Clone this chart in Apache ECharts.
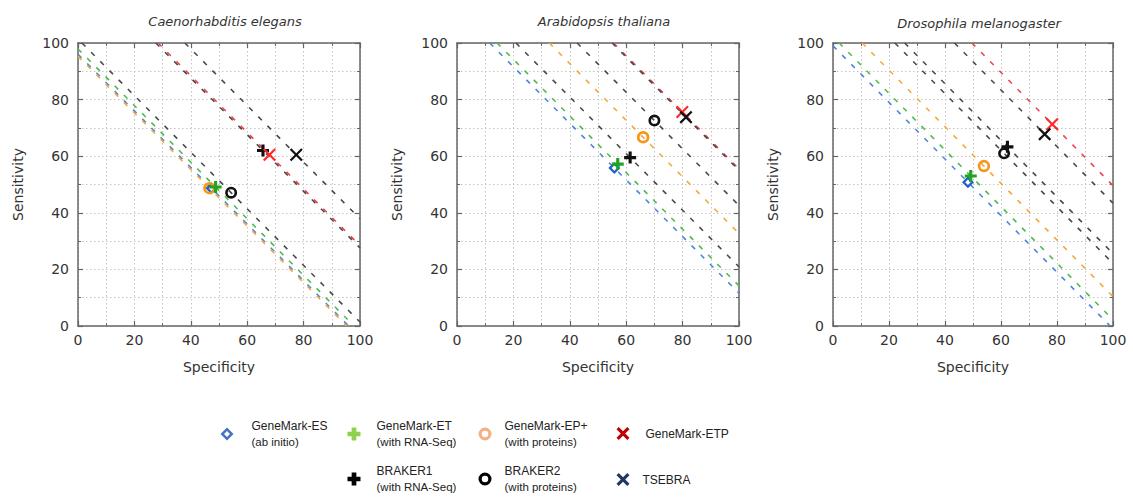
<!DOCTYPE html>
<html><head><meta charset="utf-8">
<script src="https://cdn.jsdelivr.net/npm/echarts@6/dist/echarts.min.js"></script>
<style>html,body{margin:0;padding:0;background:#fff}#c{width:1133px;height:498px}</style>
</head><body><div id="c"></div>
<script>
// ---- data ----
const methods = ['GeneMark-ES','GeneMark-EP+','GeneMark-ET','BRAKER2','BRAKER1','GeneMark-ETP','TSEBRA'];
const species = ['Caenorhabditis elegans','Arabidopsis thaliana','Drosophila melanogaster'];
const tickValues = [0,20,40,60,80,100];
// order matches `methods`
const celegansSpecificity = [47.3, 46.6, 48.8, 54.3, 65.6, 67.9, 77.4];
const celegansSensitivity = [48.7, 48.7, 49.1, 47.1, 62.0, 60.5, 60.5];
const athalianaSpecificity = [55.8, 66.0, 57.0, 70.0, 61.4, 79.9, 81.2];
const athalianaSensitivity = [55.8, 66.7, 57.2, 72.6, 59.5, 75.6, 73.8];
const dmelanogasterSpecificity = [48.2, 53.9, 49.2, 61.1, 62.3, 78.3, 75.6];
const dmelanogasterSensitivity = [50.8, 56.5, 53.0, 61.0, 63.3, 71.3, 67.8];
const legendOrder = ['GeneMark-ES','GeneMark-ET','GeneMark-EP+','GeneMark-ETP','BRAKER1','BRAKER2','TSEBRA'];
const legendNotes = ['(ab initio)','(with RNA-Seq)','(with proteins)','','(with RNA-Seq)','(with proteins)',''];

const spec = [celegansSpecificity, athalianaSpecificity, dmelanogasterSpecificity];
const sens = [celegansSensitivity, athalianaSensitivity, dmelanogasterSensitivity];

// ---- styles ----
const P_PLUS = 'path://M-1.3,-5 H1.3 V-1.3 H5 V1.3 H1.3 V5 H-1.3 V1.3 H-5 V-1.3 H-1.3 Z';
const P_PLUS_B = 'path://M-1.8,-5 H1.8 V-1.8 H5 V1.8 H1.8 V5 H-1.8 V1.8 H-5 V-1.8 H-1.8 Z';
const P_X = 'path://M-5,-3.8 L-3.8,-5 L0,-1.2 L3.8,-5 L5,-3.8 L1.2,0 L5,3.8 L3.8,5 L0,1.2 L-3.8,5 L-5,3.8 L-1.2,0 Z';
const P_X_B = 'path://M-5,-3.3 L-3.3,-5 L0,-1.7 L3.3,-5 L5,-3.3 L1.7,0 L5,3.3 L3.3,5 L0,1.7 L-3.3,5 L-5,3.3 L-1.7,0 Z';
const P_RING = 'path://M0,-10 A10,10 0 1,1 0,10 A10,10 0 1,1 0,-10 Z M0,-5.6 A5.6,5.6 0 1,0 0,5.6 A5.6,5.6 0 1,0 0,-5.6 Z';
const P_RING_B = 'path://M0,-10 A10,10 0 1,1 0,10 A10,10 0 1,1 0,-10 Z M0,-5 A5,5 0 1,0 0,5 A5,5 0 1,0 0,-5 Z';
const P_DIAM = 'path://M0,-10 L10,0 L0,10 L-10,0 Z M0,-4.6 L-4.6,0 L0,4.6 L4.6,0 Z';

const style = {
  'GeneMark-ES':  {sym:P_DIAM, size:12, color:'#1f62c9', line:'#4f87d8', leg:'#4472c4', legSym:P_DIAM},
  'GeneMark-EP+': {sym:P_RING, size:12.5, color:'#f5971a', line:'#f5a83a', leg:'#f4b183', legSym:P_RING_B},
  'GeneMark-ET':  {sym:P_PLUS, size:12, color:'#22a322', line:'#4dbb4d', leg:'#92d050', legSym:P_PLUS_B},
  'BRAKER2':      {sym:P_RING, size:12, color:'#111111', line:'#4a4a4a', leg:'#000000', legSym:P_RING_B},
  'BRAKER1':      {sym:P_PLUS, size:12, color:'#111111', line:'#4a4a4a', leg:'#000000', legSym:P_PLUS_B},
  'GeneMark-ETP': {sym:P_X, size:13, color:'#ff2a2a', line:'#e8454c', leg:'#c00000', legSym:P_X_B},
  'TSEBRA':       {sym:P_X, size:13, color:'#111111', line:'#4a4a4a', leg:'#1f3864', legSym:P_X_B}
};

const grids = [
  {left:78, top:43, width:282, height:283},
  {left:457, top:43, width:282, height:283},
  {left:833, top:43, width:280, height:283}
];
const titleCenters = [[220,10],[599,10],[974,12]];

const frameColor = '#666';
const tickFont = {fontFamily:'DejaVu Sans', fontSize:14, color:'#333'};

function axisBase(gi, pos, main) {
  return {
    gridIndex: gi, type:'value', position: pos,
    min: tickValues[0], max: tickValues[tickValues.length-1],
    interval: tickValues[1]-tickValues[0],
    axisLine:{show:true, onZero:false, lineStyle:{color:frameColor, width:1.5}},
    axisTick:{show:true, inside:true, length:5, lineStyle:{color:frameColor, width:1.2}},
    minorTick:{show:true, splitNumber:2, length:3, lineStyle:{color:frameColor, width:1}},
    splitLine:{show:main, lineStyle:{type:[1.5,2.5], color:'#c4c4c4', width:1}},
    minorSplitLine:{show:main, lineStyle:{type:[1.5,2.5], color:'#c4c4c4', width:1}},
    axisLabel: main ? Object.assign({show:true}, tickFont) : {show:false}
  };
}

const xAxis = [], yAxis = [], series = [], titles = [];
species.forEach((sp, i) => {
  const bx = axisBase(i, 'bottom', true);
  bx.name = 'Specificity'; bx.nameLocation = 'middle'; bx.nameGap = 34;
  bx.nameTextStyle = {fontFamily:'DejaVu Sans', fontSize:14, color:'#333'};
  bx.axisLabel.margin = 7;
  xAxis.push(bx);
  xAxis.push(axisBase(i, 'top', false));
  const ly = axisBase(i, 'left', true);
  ly.name = 'Sensitivity'; ly.nameLocation = 'middle'; ly.nameGap = 53;
  ly.nameTextStyle = {fontFamily:'DejaVu Sans', fontSize:14, color:'#333'};
  ly.axisLabel.margin = 9;
  yAxis.push(ly);
  yAxis.push(axisBase(i, 'right', false));
  titles.push({text: sp, left: titleCenters[i][0], top: titleCenters[i][1], textAlign:'center',
    textStyle:{fontFamily:'DejaVu Sans', fontStyle:'italic', fontWeight:'normal', fontSize:13, color:'#333'}});

  methods.forEach((m, j) => {
    const x = spec[i][j], y = sens[i][j], s = x + y;
    const pts = s <= 100 ? [[0, s], [s, 0]] : [[s - 100, 100], [100, s - 100]];
    series.push({
      type:'line', name:'line ' + m, xAxisIndex: 2*i, yAxisIndex: 2*i,
      data: pts, symbol:'none', silent:true, z:2, animation:false,
      lineStyle:{color: style[m].line, width:1.6, type:[5,8]}
    });
  });
  methods.forEach((m, j) => {
    series.push({
      type:'scatter', name: m, xAxisIndex: 2*i, yAxisIndex: 2*i,
      data: [[spec[i][j], sens[i][j]]], symbol: style[m].sym, symbolSize: style[m].size,
      itemStyle:{color: style[m].color, opacity:1}, z:5, animation:false, silent:true
    });
  });
});

// legend placement (icon centre) per legend entry
const legendPos = [[227,436],[354,436],[485,436],[623,435],[354,481],[485,481],[623,481]];
const legendTextGap = [13,11,8,11,11,8,8];
const legends = legendOrder.map((m, k) => {
  const two = legendNotes[k] !== '';
  return {
    selectedMode:false, padding:0, itemWidth:13, itemHeight:13,
    left: legendPos[k][0] - 6.5, top: legendPos[k][1] - (two ? 16 : 8),
    data:[{name:m, icon: style[m].legSym, itemStyle:{color: style[m].leg, borderWidth:0}}],
    formatter: name => two ? '{a|' + name + '}\n{b|' + legendNotes[k] + '}' : '{a|' + name + '}',
    textStyle:{fontFamily:'Liberation Sans', fontSize:12, color:'#222', padding:[0,0,0,legendTextGap[k]],
      rich:{a:{fontFamily:'Liberation Sans', fontSize:12, color:'#222', lineHeight:16},
            b:{fontFamily:'Liberation Sans', fontSize:11.5, color:'#222', lineHeight:16}}}
  };
});

const chart = echarts.init(document.getElementById('c'), null, {renderer:'svg'});
chart.setOption({
  backgroundColor:'#fff', animation:false,
  title: titles, grid: grids, xAxis, yAxis, series, legend: legends
});
</script></body></html>
